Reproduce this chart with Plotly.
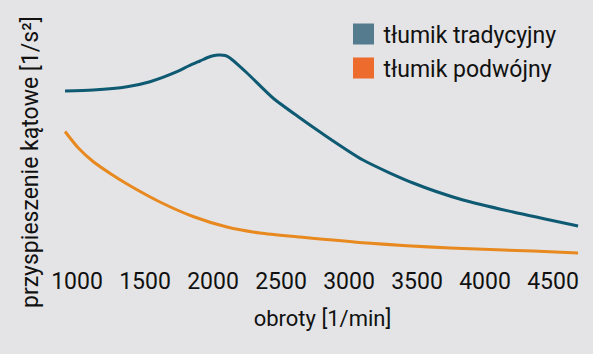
import plotly.graph_objects as go

# rpm values and angular acceleration (arbitrary units)
rpm_trad = [912, 1118, 1368, 1537, 1735, 1820, 1904, 1980, 2037, 2090, 2125,
            2250, 2441, 2640, 2787, 3103, 3471, 3838, 4206, 4684]
acc_trad = [17.4, 17.5, 17.83, 18.33, 19.33, 19.9, 20.4, 20.85, 21.0, 20.95, 20.7,
            19.2, 16.7, 14.7, 13.3, 10.5, 8.2, 6.5, 5.3, 3.9]

rpm_dbl = [912, 1010, 1118, 1250, 1368, 1610, 1853, 2103, 2346, 2640, 3132,
           3743, 4353, 4684]
acc_dbl = [13.35, 11.7, 10.35, 9.1, 8.1, 6.3, 4.85, 3.8, 3.2, 2.8, 2.2,
           1.7, 1.4, 1.2]

series_names = ["tłumik tradycyjny", "tłumik podwójny"]
line_colors = ["#0f5a73", "#e8891f"]
legend_colors = ["#557b8e", "#ee6b2e"]
x_ticks = [1000, 1500, 2000, 2500, 3000, 3500, 4000, 4500]

FONT = "Roboto, Liberation Sans, sans-serif"

fig = go.Figure()
fig.add_trace(go.Scatter(x=rpm_trad, y=acc_trad, mode="lines", line_shape="spline",
                         line=dict(color=line_colors[0], width=3, smoothing=0.7),
                         showlegend=False))
fig.add_trace(go.Scatter(x=rpm_dbl, y=acc_dbl, mode="lines", line_shape="spline",
                         line=dict(color=line_colors[1], width=3, smoothing=0.7),
                         showlegend=False))
for i, (name, c) in enumerate(zip(series_names, legend_colors)):
    fig.add_trace(go.Scatter(x=[None], y=[None], mode="markers", name=name,
                             legendgroup=f"g{i}",
                             marker=dict(symbol="square", size=16, color=c,
                                         line=dict(color=c, width=5))))

bg = "#e4e4e6"
fig.update_layout(
    width=593, height=354,
    paper_bgcolor=bg, plot_bgcolor=bg,
    margin=dict(l=60, r=8, t=10, b=89),
    font=dict(family=FONT, size=23, color="#111111"),
    legend=dict(x=0.54, y=0.99, xanchor="left", yanchor="top",
                bgcolor="rgba(0,0,0,0)", font=dict(size=23),
                itemsizing="trace", tracegroupgap=1),
    xaxis=dict(range=[875, 4735], tickvals=x_ticks, showgrid=False, zeroline=False,
               showline=False, ticks="", tickfont=dict(size=23),
               title=dict(text="obroty [1/min]", font=dict(size=22), standoff=16)),
    yaxis=dict(range=[0, 25.5], showticklabels=False, showgrid=False,
               zeroline=False, showline=False, ticks=""),
    annotations=[dict(text="przyspieszenie kątowe [1/s²]", textangle=-90,
                      xref="paper", yref="paper", x=-0.0552, y=0.404,
                      xanchor="center", yanchor="middle", showarrow=False,
                      font=dict(size=23))],
)
fig.write_html("out.html")
